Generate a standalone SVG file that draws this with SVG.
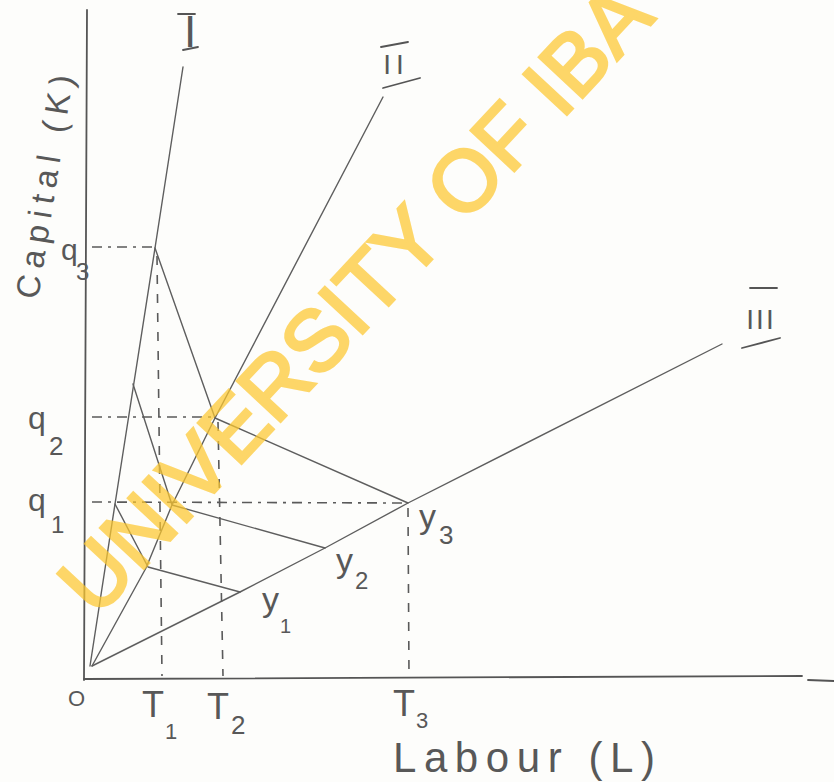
<svg xmlns="http://www.w3.org/2000/svg" width="834" height="782" viewBox="0 0 834 782">
<style>
.ln{fill:none;stroke:#5e5e5e;stroke-width:1.4;stroke-linecap:round;stroke-linejoin:round}
.ax{fill:none;stroke:#555;stroke-width:1.8;stroke-linecap:round}
.dh{fill:none;stroke:#5a5a5a;stroke-width:1.6;stroke-dasharray:10 6 3 6}
.dv{fill:none;stroke:#5a5a5a;stroke-width:1.6;stroke-dasharray:9 10}
.bar{fill:none;stroke:#555;stroke-width:1.8;stroke-linecap:round}
.t{font-family:"Liberation Sans",Arial,sans-serif;fill:#585858}
.wm{font-family:"Liberation Sans",Arial,sans-serif;font-size:86px;fill:#fdc830;stroke:#fdc830;stroke-width:3;opacity:0.72}
</style>
<rect width="834" height="782" fill="#fdfdfb"/>
<g id="axes">
<line class="ax" x1="84" y1="680" x2="87" y2="10"/>
<line class="ax" x1="84" y1="679" x2="802" y2="676"/>
<line class="ax" x1="808" y1="680" x2="834" y2="681"/>
</g>
<g id="connectors">
<g id="rays">
<polyline id="ray-I" class="ln" points="90,666 115,504 155,248 183,67"/>
<polyline id="ray-II" class="ln" points="92,666 146,568 172,505 215,418 383,97"/>
<polyline id="ray-III" class="ln" points="92,666 240,592 325,548 408,503 722,344"/>
</g>
<g id="isoquants">
<polyline id="iso-y1" class="ln" points="115,504 148,567 240,592"/>
<polyline id="iso-y2" class="ln" points="133,384 172,505 325,548"/>
<polyline id="iso-y3" class="ln" points="155,248 215,418 408,503"/>
</g>
<g id="guides">
<line class="dh" x1="92" y1="247" x2="152" y2="247"/>
<line class="dh" x1="92" y1="417" x2="212" y2="417"/>
<line class="dh" x1="92" y1="502" x2="404" y2="503"/>
<line class="dv" x1="157" y1="256" x2="162" y2="676"/>
<line class="dv" x1="218" y1="422" x2="223" y2="676"/>
<line class="dv" x1="408" y1="508" x2="409" y2="676"/>
</g>
</g>
<g id="ray-labels">
<g id="label-I">
<line class="bar" x1="178" y1="14" x2="195" y2="14"/>
<line class="bar" x1="183" y1="50" x2="198" y2="47"/>
<text class="t" x="190" y="47" font-size="44" text-anchor="middle">I</text>
</g>
<g id="label-II">
<line class="bar" x1="381" y1="47" x2="408" y2="42"/>
<line class="bar" x1="383" y1="88" x2="420" y2="78"/>
<text class="t" x="396" y="74" font-size="28" text-anchor="middle" letter-spacing="5">II</text>
</g>
<g id="label-III">
<line class="bar" x1="750" y1="288" x2="777" y2="288"/>
<line class="bar" x1="742" y1="348" x2="780" y2="338"/>
<text class="t" x="761" y="329" font-size="28" text-anchor="middle" letter-spacing="2">III</text>
</g>
</g>
<g id="axis-labels">
<text class="t" font-size="33" transform="translate(38,300) rotate(-81)" textLength="226" lengthAdjust="spacing">Capital (K)</text>
<text class="t" x="393" y="772" font-size="42" textLength="262" lengthAdjust="spacing">Labour (L)</text>
<text class="t" x="68" y="706" font-size="22">O</text>
</g>
<g id="q-labels">
<text class="t" x="61" y="260" font-size="30">q<tspan font-size="24" x="76" y="280">3</tspan></text>
<text class="t" x="28" y="429" font-size="32">q<tspan font-size="26" x="49" y="455">2</tspan></text>
<text class="t" x="28" y="511" font-size="32">q<tspan font-size="24" x="51" y="533">1</tspan></text>
</g>
<g id="t-labels">
<text class="t" x="142" y="717" font-size="36">T<tspan font-size="22" x="165" y="739">1</tspan></text>
<text class="t" x="207" y="719" font-size="36">T<tspan font-size="26" x="231" y="734">2</tspan></text>
<text class="t" x="393" y="716" font-size="36">T<tspan font-size="22" x="416" y="728">3</tspan></text>
</g>
<g id="y-labels">
<text class="t" x="262" y="611" font-size="34">y<tspan font-size="20" x="280" y="633">1</tspan></text>
<text class="t" x="336" y="572" font-size="34">y<tspan font-size="24" x="355" y="589">2</tspan></text>
<text class="t" x="419" y="528" font-size="34">y<tspan font-size="26" x="439" y="544">3</tspan></text>
</g>
<g id="watermark">
<text class="wm" transform="translate(96.6,618.8) rotate(-47)">UNIVERSITY OF IBA</text>
</g>
</svg>
